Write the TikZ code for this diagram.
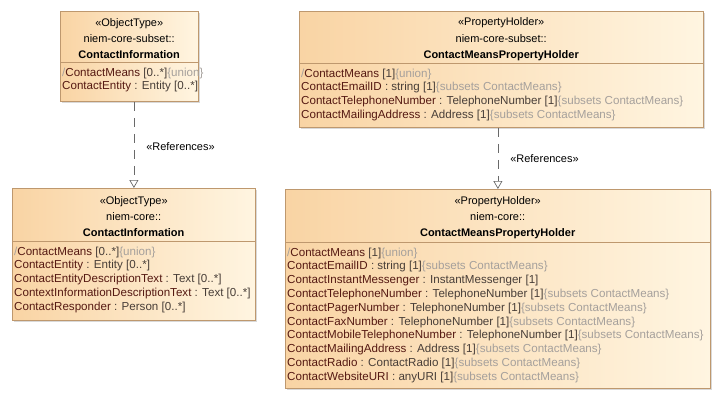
\documentclass[tikz,border=0pt]{standalone}
\usepackage{fontspec}
\setmainfont{Liberation Sans}
\usetikzlibrary{arrows.meta,shadows,positioning}
\definecolor{boxorange}{RGB}{249,212,164}
\definecolor{boxcream}{RGB}{255,245,225}
\definecolor{boxline}{RGB}{190,152,110}
\definecolor{attrname}{RGB}{85,25,18}
\definecolor{attrtype}{RGB}{72,62,56}
\definecolor{attrcons}{RGB}{165,160,156}
\definecolor{linkgray}{RGB}{105,105,105}
\newcommand{\an}[1]{\textcolor{attrname}{#1}}
\newcommand{\at}[1]{\textcolor{attrtype}{#1}}
\newcommand{\ac}[1]{\textcolor{attrcons}{#1}}
\tikzstyle{classbox} = [rectangle, draw=boxline, line width=0.8pt, left color=boxorange,
right color=boxcream, anchor=north west, inner sep=0pt,
drop shadow={shadow xshift=2pt, shadow yshift=-2pt, opacity=0.3}]
\tikzstyle{head} = [rectangle, anchor=north west, align=center, inner sep=0pt,
font=\fontsize{11}{16.2}\selectfont]
\tikzstyle{attrs} = [anchor=north west, align=left, inner sep=0pt,
font=\fontsize{11.6}{13.8}\selectfont]
\tikzstyle{sep} = [draw=boxline, line width=0.8pt]
\tikzstyle{arrow} = [draw=linkgray, line width=0.7pt, dash pattern=on 9pt off 7pt,
-{Triangle[open, fill=white, length=8pt, width=9pt]}]
\tikzstyle{stereo} = [right=12pt, inner sep=0pt, font=\fontsize{11}{13}\selectfont]

\begin{document}
\begin{tikzpicture}[x=1pt, y=-1pt]
\useasboundingbox (0,0) rectangle (720,400);

\node (subCI)[classbox, minimum width=138pt, minimum height=90pt] at (60,11) {};
\node (subCIhead)[head, minimum width=138pt, minimum height=47pt] at (60,15)
  {«ObjectType»\\niem-core-subset::\\\textbf{ContactInformation}};
\draw [sep](subCIhead.south west) -- (subCIhead.south east);
\node (subCIattr)[attrs] at ([xshift=2pt, yshift=-5pt]subCIhead.south west)
  {\ac{/}\an{ContactMeans} \at{[0..*]}\ac{\{union\}}\\
   \an{ContactEntity} \at{: Entity [0..*]}};

\node (subCM)[classbox, minimum width=404pt, minimum height=116pt] at (299,11) {};
\node (subCMhead)[head, minimum width=404pt, minimum height=48pt] at (299,15)
  {«PropertyHolder»\\niem-core-subset::\\\textbf{ContactMeansPropertyHolder}};
\draw [sep](subCMhead.south west) -- (subCMhead.south east);
\node (subCMattr)[attrs] at ([xshift=2pt, yshift=-5pt]subCMhead.south west)
  {\ac{/}\an{ContactMeans} \at{[1]}\ac{\{union\}}\\
   \an{ContactEmailID} \at{: string [1]}\ac{\{subsets ContactMeans\}}\\
   \an{ContactTelephoneNumber} \at{: TelephoneNumber [1]}\ac{\{subsets ContactMeans\}}\\
   \an{ContactMailingAddress} \at{: Address [1]}\ac{\{subsets ContactMeans\}}};

\node (coreCI)[classbox, minimum width=243pt, minimum height=132pt] at (12,188) {};
\node (coreCIhead)[head, minimum width=243pt, minimum height=49pt] at (12,192)
  {«ObjectType»\\niem-core::\\\textbf{ContactInformation}};
\draw [sep](coreCIhead.south west) -- (coreCIhead.south east);
\node (coreCIattr)[attrs] at ([xshift=2pt, yshift=-5pt]coreCIhead.south west)
  {\ac{/}\an{ContactMeans} \at{[0..*]}\ac{\{union\}}\\
   \an{ContactEntity} \at{: Entity [0..*]}\\
   \an{ContactEntityDescriptionText} \at{: Text [0..*]}\\
   \an{ContextInformationDescriptionText} \at{: Text [0..*]}\\
   \an{ContactResponder} \at{: Person [0..*]}};

\node (coreCM)[classbox, minimum width=425pt, minimum height=199pt] at (285,189) {};
\node (coreCMhead)[head, minimum width=425pt, minimum height=49pt] at (285,193)
  {«PropertyHolder»\\niem-core::\\\textbf{ContactMeansPropertyHolder}};
\draw [sep](coreCMhead.south west) -- (coreCMhead.south east);
\node (coreCMattr)[attrs] at ([xshift=2pt, yshift=-5pt]coreCMhead.south west)
  {\ac{/}\an{ContactMeans} \at{[1]}\ac{\{union\}}\\
   \an{ContactEmailID} \at{: string [1]}\ac{\{subsets ContactMeans\}}\\
   \an{ContactInstantMessenger} \at{: InstantMessenger [1]}\\
   \an{ContactTelephoneNumber} \at{: TelephoneNumber [1]}\ac{\{subsets ContactMeans\}}\\
   \an{ContactPagerNumber} \at{: TelephoneNumber [1]}\ac{\{subsets ContactMeans\}}\\
   \an{ContactFaxNumber} \at{: TelephoneNumber [1]}\ac{\{subsets ContactMeans\}}\\
   \an{ContactMobileTelephoneNumber} \at{: TelephoneNumber [1]}\ac{\{subsets ContactMeans\}}\\
   \an{ContactMailingAddress} \at{: Address [1]}\ac{\{subsets ContactMeans\}}\\
   \an{ContactRadio} \at{: ContactRadio [1]}\ac{\{subsets ContactMeans\}}\\
   \an{ContactWebsiteURI} \at{: anyURI [1]}\ac{\{subsets ContactMeans\}}};

\draw [arrow](coreCI.north |- subCI.south) -- node[stereo, yshift=-2pt]{«References»} (coreCI.north);
\draw [arrow](coreCM.north |- subCM.south) -- node[stereo]{«References»} (coreCM.north);
\end{tikzpicture}
\end{document}
